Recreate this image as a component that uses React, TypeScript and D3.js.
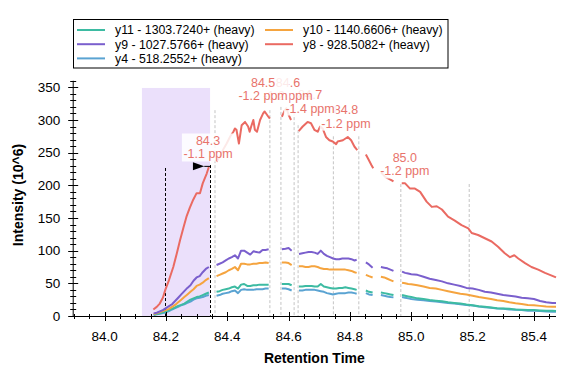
import React from "react";
import * as d3 from "d3";

const W = 583;
const H = 379;

// ---------- data ----------
const lowTimes = [
  84.16, 84.17, 84.18, 84.19, 84.2, 84.21, 84.22, 84.23, 84.24, 84.25, 84.26, 84.27, 84.28, 84.29, 84.3, 84.31, 84.32, 84.33, 84.34,
  84.352,
  84.365, 84.375, 84.385, 84.395, 84.405, 84.415, 84.425, 84.435, 84.445, 84.455, 84.465, 84.475, 84.485, 84.495, 84.505, 84.515, 84.525, 84.535,
  84.558,
  84.578, 84.59, 84.6, 84.61,
  84.622,
  84.634, 84.645, 84.655, 84.665, 84.675, 84.685, 84.695, 84.705, 84.715, 84.725, 84.735, 84.745, 84.755, 84.765, 84.775, 84.785, 84.795, 84.805, 84.815, 84.822,
  84.837,
  84.852, 84.862, 84.874,
  84.888,
  84.901, 84.912, 84.922, 84.932, 84.942,
  84.956,
  84.97, 84.98, 84.99, 85.0, 85.02, 85.04, 85.06, 85.08, 85.1, 85.12, 85.14, 85.16, 85.18, 85.2, 85.22, 85.24, 85.26, 85.28, 85.3, 85.32, 85.34, 85.36, 85.38, 85.4, 85.42, 85.44, 85.46, 85.472,
];

const y9Values = [
  4, 5, 7, 9, 12, 15, 18, 23, 28, 33, 38, 43, 47, 54, 59, 61, 67, 72, 75,
  null,
  78, 80, 82, 85, 88, 90, 93, 88, 100, 100, 97, 94, 99, 98, 97, 101, 101, 102,
  null,
  102, 103, 104, 100,
  null,
  95, 96, 97, 98, 98, 97, 95, 100, 95, 92, 90, 88, 87, 87, 88, 88, 88, 87, 85, 86,
  null,
  82, 79, 74,
  null,
  75, 74, 73, 71, 69,
  null,
  68, 66, 65, 64, 63, 60, 57, 55, 53, 50, 48, 46, 43, 42, 40, 37, 36, 34, 32, 31, 30, 28, 27, 26, 23, 21, 20, 20,
];

const y10Values = [
  3, 4, 6, 7.5, 9, 11, 14, 17, 21, 25, 29, 33, 37, 41, 46, 48, 51, 55, 58,
  null,
  61, 63, 65, 67, 70, 72, 75, 70, 80, 80, 79, 79, 80, 80, 81, 81, 82, 81,
  null,
  82, 82, 81, 78,
  null,
  76, 76, 75, 75, 76, 76, 75, 73, 72, 72, 71, 71, 71, 71, 71, 71, 70, 69, 67, 66,
  null,
  63, 61, 59,
  null,
  60, 59, 57, 55, 53,
  null,
  51, 50, 49, 48.5, 47, 45, 43, 42, 40, 38, 36, 34, 33, 31, 29, 27.5, 26, 24, 23, 21, 19.5, 18.5, 17, 16.5, 15.5, 14.5, 14, 14,
];

const y11Values = [
  2, 3, 4, 5.5, 7, 9, 11, 13, 15.5, 17, 19, 22, 25, 27, 29, 30, 32, 34, 36,
  null,
  37, 38, 40, 41, 42, 44, 45, 42, 48, 49, 46, 46, 47, 47, 48, 48, 48, 48,
  null,
  49, 49, 49, 47,
  null,
  45, 45, 46, 46, 46, 45, 45, 49, 45, 44, 43, 42, 42, 43, 43, 44, 43, 42, 41, 40,
  null,
  39, 37, 36,
  null,
  36, 35, 34, 33, 32,
  null,
  32, 31, 30, 29, 27, 26, 24.5, 23.5, 22.5, 21, 20, 19, 17.5, 16.5, 15, 14, 13, 12, 11.5, 11, 10, 9.5, 9, 9, 8.5, 8, 8, 7.5,
];

const y4Values = [
  1.5, 2.5, 3.5, 4.5, 5.5, 7.5, 10, 12, 14, 16.5, 18, 20, 22, 25, 27, 28, 29, 31, 32,
  null,
  31, 32, 34, 35, 36, 38, 39, 35, 40, 41, 40, 40, 40, 41, 41, 41, 42, 42,
  null,
  42, 42, 41, 39,
  null,
  39, 39, 40, 40, 40, 40, 39, 38, 37, 35, 34, 33, 34, 35, 35, 35, 36, 36, 35, 34,
  null,
  35, 33, 32,
  null,
  32, 31, 30, 29, 28.5,
  null,
  29, 28, 27, 26, 25, 24, 23, 22, 21, 20, 19, 18, 17, 16, 14.5, 13.5, 12.5, 11.5, 11, 10, 9.5, 9, 8, 8, 7.5, 7, 6.5, 6.5,
];

const y8Times = [
  84.159, 84.17, 84.18, 84.19, 84.198, 84.21, 84.224, 84.235, 84.246, 84.257, 84.267, 84.278, 84.289, 84.3, 84.311, 84.32, 84.333, 84.34,
  84.352,
  84.365, 84.376, 84.387, 84.398, 84.41, 84.42, 84.425, 84.43, 84.438, 84.447, 84.458, 84.468, 84.473, 84.478, 84.485, 84.49, 84.497, 84.507, 84.517, 84.522, 84.534, 84.539,
  84.558,
  84.578, 84.588, 84.593, 84.6, 84.608,
  84.62,
  84.633, 84.646, 84.662, 84.673, 84.684, 84.695, 84.703, 84.711, 84.722, 84.733, 84.744, 84.755, 84.76, 84.777, 84.793, 84.804, 84.815, 84.824,
  84.838,
  84.852, 84.859, 84.87, 84.876,
  84.888,
  84.901, 84.915, 84.935, 84.942,
  84.956,
  84.969, 84.98, 84.996, 85.012, 85.029, 85.05, 85.067, 85.083, 85.1, 85.12, 85.142, 85.164, 85.186, 85.197, 85.218, 85.24, 85.262, 85.283, 85.305, 85.322, 85.336, 85.349, 85.371, 85.392, 85.414, 85.436, 85.452, 85.472,
];

const y8Values = [
  10, 14, 19, 28, 40, 55, 75, 95, 116, 135, 152, 166, 178, 188, 188, 203, 218, 228,
  null,
  236, 244, 255, 264, 275, 282, 287, 285, 264, 292, 297, 290, 282, 290, 300, 285, 282, 300, 310, 313, 305, 302,
  null,
  305, 315, 318, 308, 300,
  null,
  283, 290, 297, 295, 285, 282, 290, 287, 274, 269, 267, 263, 267, 269, 274, 269, 259, 254,
  null,
  247, 241, 231, 226,
  null,
  220, 213, 208, 206,
  null,
  203, 203, 195, 195, 190, 175, 167, 168, 163, 152, 146, 139, 134, 127, 124, 119, 114, 106, 96, 90, 93, 88, 81, 75, 71, 66, 63, 59,
];

const seriesNames = [
  "y11 - 1303.7240+ (heavy)",
  "y10 - 1140.6606+ (heavy)",
  "y9 - 1027.5766+ (heavy)",
  "y8 - 928.5082+ (heavy)",
  "y4 - 518.2552+ (heavy)",
];
const seriesColors = ["#3dbba2", "#f5a43f", "#7a5fcd", "#ea6a62", "#5aa3d2"];

const xMajorTicks = [84.0, 84.2, 84.4, 84.6, 84.8, 85.0, 85.2, 85.4];
const yMajorTicks = [0, 50, 100, 150, 200, 250, 300, 350];

// integrated peak boundaries and shading
const peakStart = 84.198;
const peakEnd = 84.344;
const shadeStart = 84.1217;
const shadeEnd = 84.344;
const shadeTop = 349;
const boundaryTops = [226.5, 231];
const arrowTime = [84.288, 84.325, 84.344];
const arrowHeight = 229;

// other retention-time markers (grey dashed)
const markerTimes = [84.36, 84.539, 84.575, 84.618, 84.631, 84.746, 84.829, 84.966, 85.189];
const markerTops = [315, 315, 320, 312, 292, 275, 275, 202, 202];

// peak annotations (drawn in this order)
const labelTimes = [84.979, 84.787, 84.67, 84.598, 84.517, 84.3375];
const labelHeights = [235.7, 309, 332, 350.5, 350.5, 261.7];
const labelRT = ["85.0", "84.8", "84.7", "84.6", "84.5", "84.3"];
const labelPPM = ["-1.2 ppm", "-1.2 ppm", "-1.4 ppm", "-1.2 ppm", "-1.2 ppm", "-1.1 ppm"];

// ---------- component ----------
export default function App() {
  const x = d3.scaleLinear().domain([83.896, 85.472]).range([72.7, 556]);
  const y = d3.scaleLinear().domain([0, 350]).range([316, 87.3]);
  const font = "'Liberation Sans', Arial, sans-serif";

  const line = d3
    .line<[number, number | null]>()
    .defined((d) => d[1] != null)
    .x((d) => x(d[0]))
    .y((d) => y(d[1] as number));

  const lowSeries = [y11Values, y10Values, y9Values, null, y4Values];
  const paths = seriesNames.map((_, i) => {
    if (i === 3) return line(y8Times.map((t, j) => [t, y8Values[j]] as [number, number | null]));
    const vals = lowSeries[i] as (number | null)[];
    return line(lowTimes.map((t, j) => [t, vals[j]] as [number, number | null]));
  });
  const drawOrder = [4, 0, 1, 2, 3];

  const xMinor = d3.range(83.9, 85.47, 0.05);
  const yMinor = d3.range(0, 361, 10);
  const x0 = x.range()[0];
  const x1 = x.range()[1];
  const yBase = y(0);
  const yTop = y(360);

  const ay = y(arrowHeight);

  return (
    <div style={{ position: "fixed", left: 0, top: 0 }}>
      <svg width={W} height={H} style={{ display: "block", background: "#fff" }} fontFamily={font}>
        {/* shaded integration region */}
        <rect x={x(shadeStart)} y={y(shadeTop)} width={x(shadeEnd) - x(shadeStart)} height={yBase - y(shadeTop)} fill="#ebe0fb" />

        {/* grey markers */}
        {markerTimes.map((t, i) => (
          <line key={"m" + i} x1={x(t)} x2={x(t)} y1={y(markerTops[i])} y2={yBase} stroke="#c4c4c4" strokeWidth={1} strokeDasharray="3,2" />
        ))}

        {/* peak boundaries */}
        {[peakStart, peakEnd].map((t, i) => (
          <line key={"b" + i} x1={Math.round(x(t)) + 0.5} x2={Math.round(x(t)) + 0.5} y1={y(boundaryTops[i])} y2={yBase} stroke="#000" strokeWidth={1} strokeDasharray="3,2" />
        ))}

        {/* chromatogram lines */}
        {drawOrder.map((i) => (
          <path key={"s" + i} d={paths[i] || ""} fill="none" stroke={seriesColors[i]} strokeWidth={2} strokeLinejoin="round" strokeLinecap="butt" />
        ))}

        {/* arrow */}
        <path d={`M${x(arrowTime[0])},${ay - 4} L${x(arrowTime[1])},${ay} L${x(arrowTime[0])},${ay + 4} Z`} fill="#000" />
        <line x1={x(arrowTime[1])} x2={x(arrowTime[2])} y1={ay} y2={ay} stroke="#000" strokeWidth={1} />

        {/* peak labels */}
        {labelTimes.map((t, i) => {
          const cx = x(t);
          const by = y(labelHeights[i]);
          const w = labelPPM[i].length * 6.3 + 2;
          return (
            <g key={"l" + i}>
              <rect x={cx - w / 2} y={by - 11.5} width={w} height={28} fill="#fff" fillOpacity={0.85} />
              <text x={cx} y={by} textAnchor="middle" fontSize={12.5} fill="#e8736b">
                {labelRT[i]}
              </text>
              <text x={cx} y={by + 13.5} textAnchor="middle" fontSize={12.5} fill="#e8736b">
                {labelPPM[i]}
              </text>
            </g>
          );
        })}

        {/* axes */}
        <line x1={x0} x2={x1} y1={yBase + 0.5} y2={yBase + 0.5} stroke="#000" strokeWidth={1} />
        <line x1={x0 + 0.5} x2={x0 + 0.5} y1={yTop} y2={yBase} stroke="#000" strokeWidth={1} />
        {xMinor.map((t, i) => (
          <line key={"xm" + i} x1={Math.round(x(t)) + 0.5} x2={Math.round(x(t)) + 0.5} y1={yBase - 2} y2={yBase + 3} stroke="#000" />
        ))}
        {xMajorTicks.map((t, i) => (
          <g key={"xM" + i}>
            <line x1={Math.round(x(t)) + 0.5} x2={Math.round(x(t)) + 0.5} y1={yBase - 4} y2={yBase + 5} stroke="#000" />
            <text x={x(t)} y={yBase + 24.5} textAnchor="middle" fontSize={13.5} fill="#000">
              {t.toFixed(1)}
            </text>
          </g>
        ))}
        {yMinor.map((v, i) => (
          <line key={"ym" + i} x1={x0 - 2.5} x2={x0 + 3.5} y1={Math.round(y(v)) + 0.5} y2={Math.round(y(v)) + 0.5} stroke="#000" />
        ))}
        {yMajorTicks.map((v, i) => (
          <g key={"yM" + i}>
            <line x1={x0 - 4.5} x2={x0 + 5.5} y1={Math.round(y(v)) + 0.5} y2={Math.round(y(v)) + 0.5} stroke="#000" />
            <text x={x0 - 12.5} y={y(v) + 4.7} textAnchor="end" fontSize={13.5} fill="#000">
              {v}
            </text>
          </g>
        ))}

        {/* axis titles */}
        <text x={(x0 + x1) / 2 + 0} y={363} textAnchor="middle" fontSize={14} fontWeight="bold" fill="#000">
          Retention Time
        </text>
        <text transform={`translate(23,${195}) rotate(-90)`} textAnchor="middle" fontSize={14} fontWeight="bold" fill="#000">
          Intensity (10^6)
        </text>

        {/* legend */}
        <rect x={73.5} y={19.5} width={374.5} height={48.5} fill="#fff" stroke="#000" strokeWidth={1} />
        {seriesNames.map((name, i) => {
          const col = i % 2;
          const row = Math.floor(i / 2);
          const lx = col === 0 ? 77 : 265;
          const ly = 30 + row * 14.2;
          return (
            <g key={"lg" + i}>
              <line x1={lx} x2={lx + 28} y1={ly} y2={ly} stroke={seriesColors[i]} strokeWidth={2} />
              <text x={lx + 38} y={ly + 4.3} fontSize={12.3} fill="#000">
                {name}
              </text>
            </g>
          );
        })}
      </svg>
    </div>
  );
}
